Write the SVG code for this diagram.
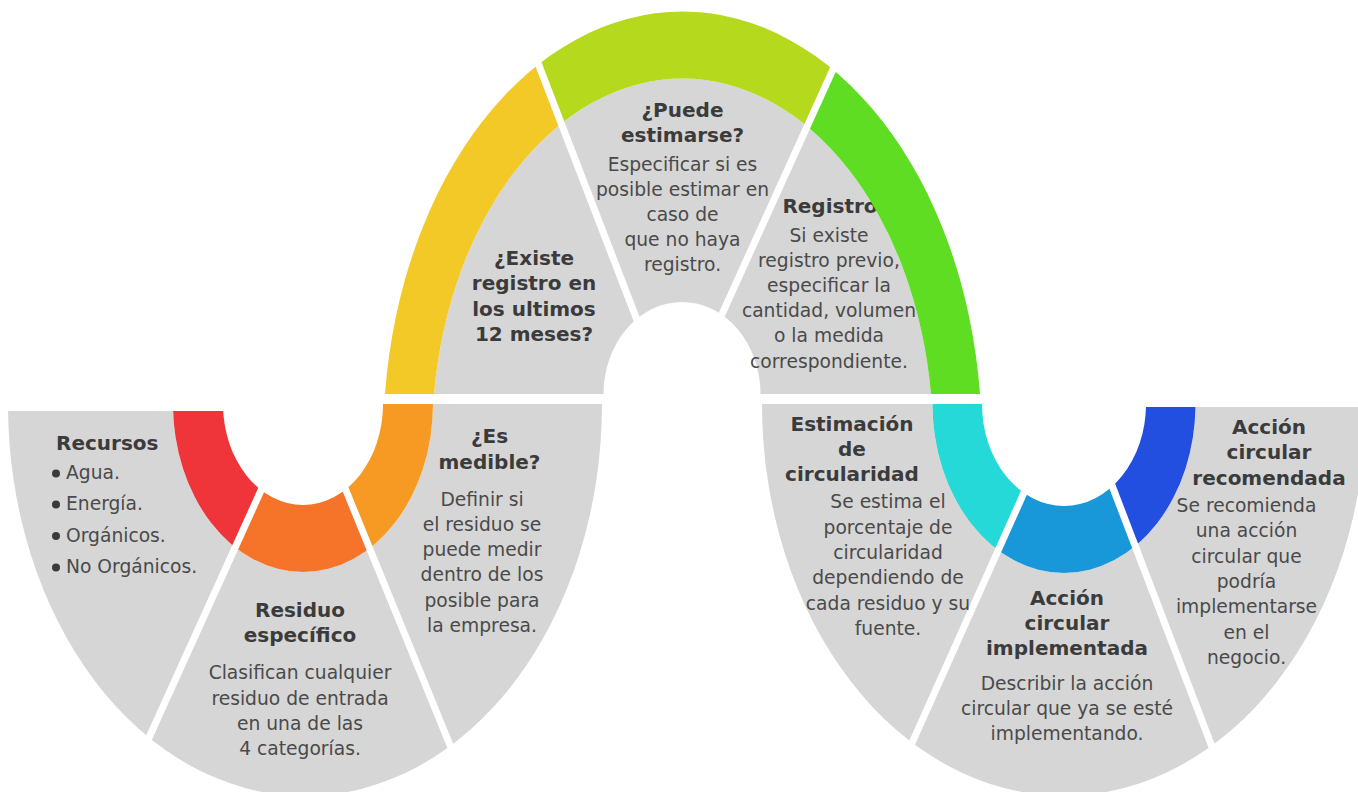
<svg xmlns="http://www.w3.org/2000/svg" width="1358" height="792" viewBox="0 0 1358 792">
<style>
.gray{fill:#d6d6d6}
.t{font-family:"DejaVu Sans","Liberation Sans",sans-serif;font-weight:bold;font-size:20px;fill:#3b3b3b;text-anchor:middle}
.b{font-family:"DejaVu Sans","Liberation Sans",sans-serif;font-size:18.7px;fill:#4a4a4a;text-anchor:middle}
.bl{font-family:"DejaVu Sans","Liberation Sans",sans-serif;font-size:18.7px;fill:#4a4a4a}
.tl{font-family:"DejaVu Sans","Liberation Sans",sans-serif;font-weight:bold;font-size:20px;fill:#3b3b3b}
.dot{fill:#3b3b3b}
</style>
<defs>
<path id="top-color" d="M385,394 A299.2,428 0 0 1 980,394 L931,394 A250.5,361 0 0 0 434,394 Z"/>
<path id="top-gray" d="M434,394 A250.5,361 0 0 1 931,394 L760.5,394 A78.5,92 0 0 0 603.5,394 Z"/>
<path id="lu-color" d="M173,404 A130,168 0 0 0 433,404 L383,404 A80,101 0 0 1 223,404 Z"/>
<path id="lu-gray" d="M8,404 A297,392 0 0 0 602,404 L433,404 A130,168 0 0 1 173,404 Z"/>
<path id="ru-color" d="M932.5,404 A131.5,169 0 0 0 1195.5,404 L1146,404 A82,102 0 0 1 982,404 Z"/>
<path id="ru-gray" d="M762,404 A302,392 0 0 0 1366,404 L1195.5,404 A131.5,169 0 0 1 932.5,404 Z"/>
<clipPath id="c-rec"><polygon points="0,411 293.1,411 116.9,800 0,800"/></clipPath>
<clipPath id="c-res"><polygon points="304,404 306.9,404 468.7,800 124.6,800"/></clipPath>
<clipPath id="c-med"><polygon points="314.4,404 620,404 620,800 476.2,800"/></clipPath>
<clipPath id="c-exi"><polygon points="360,0 509.9,0 661.7,394 360,394"/></clipPath>
<clipPath id="c-pue"><polygon points="517.5,0 860.6,0 682,394 669.3,394"/></clipPath>
<clipPath id="c-reg"><polygon points="868.3,0 1000,0 1000,394 689.7,394"/></clipPath>
<clipPath id="c-est"><polygon points="740,404 1059.9,404 882.7,800 740,800"/></clipPath>
<clipPath id="c-imp"><polygon points="1067.5,404 1077.1,404 1228.5,800 890.3,800"/></clipPath>
<clipPath id="c-rcm"><polygon points="1085.8,407 1358,407 1358,800 1236.1,800"/></clipPath>
</defs>
<rect width="1358" height="792" fill="#ffffff"/>

<g id="recursos">
<use href="#lu-gray" class="gray" clip-path="url(#c-rec)"/>
<text class="tl" x="56" y="450">Recursos</text>
<circle class="dot" cx="56" cy="473.5" r="4"/><text class="bl" x="66" y="479">Agua.</text>
<circle class="dot" cx="56" cy="504.5" r="4"/><text class="bl" x="66" y="510">Energía.</text>
<circle class="dot" cx="56" cy="536" r="4"/><text class="bl" x="66" y="541.5">Orgánicos.</text>
<circle class="dot" cx="56" cy="567.5" r="4"/><text class="bl" x="66" y="573">No Orgánicos.</text>
<use href="#lu-color" fill="#ef3539" clip-path="url(#c-rec)"/>
</g>

<g id="residuo">
<use href="#lu-gray" class="gray" clip-path="url(#c-res)"/>
<text class="t" x="300" y="617">Residuo</text>
<text class="t" x="300" y="642">específico</text>
<text class="b" x="300" y="679">Clasifican cualquier</text>
<text class="b" x="300" y="705">residuo de entrada</text>
<text class="b" x="300" y="730">en una de las</text>
<text class="b" x="300" y="755">4 categorías.</text>
<use href="#lu-color" fill="#f6732a" clip-path="url(#c-res)"/>
</g>

<g id="medible">
<use href="#lu-gray" class="gray" clip-path="url(#c-med)"/>
<text class="t" x="489.5" y="443">¿Es</text>
<text class="t" x="489.5" y="469">medible?</text>
<text class="b" x="482" y="506">Definir si</text>
<text class="b" x="482" y="531">el residuo se</text>
<text class="b" x="482" y="556">puede medir</text>
<text class="b" x="482" y="581">dentro de los</text>
<text class="b" x="482" y="606.5">posible para</text>
<text class="b" x="482" y="631.5">la empresa.</text>
<use href="#lu-color" fill="#f69a23" clip-path="url(#c-med)"/>
</g>

<g id="existe">
<use href="#top-gray" class="gray" clip-path="url(#c-exi)"/>
<text class="t" x="534" y="265">¿Existe</text>
<text class="t" x="534" y="290">registro en</text>
<text class="t" x="534" y="316">los ultimos</text>
<text class="t" x="534" y="341">12 meses?</text>
<use href="#top-color" fill="#f3c928" clip-path="url(#c-exi)"/>
</g>

<g id="puede">
<use href="#top-gray" class="gray" clip-path="url(#c-pue)"/>
<text class="t" x="682.5" y="117">¿Puede</text>
<text class="t" x="682.5" y="142">estimarse?</text>
<text class="b" x="682.5" y="171">Especificar si es</text>
<text class="b" x="682.5" y="196">posible estimar en</text>
<text class="b" x="682.5" y="221">caso de</text>
<text class="b" x="682.5" y="246">que no haya</text>
<text class="b" x="682.5" y="270.5">registro.</text>
<use href="#top-color" fill="#b5da1d" clip-path="url(#c-pue)"/>
</g>

<g id="registro">
<use href="#top-gray" class="gray" clip-path="url(#c-reg)"/>
<text class="t" x="830" y="213">Registro</text>
<text class="b" x="829" y="242">Si existe</text>
<text class="b" x="829" y="267">registro previo,</text>
<text class="b" x="829" y="292">especificar la</text>
<text class="b" x="829" y="317">cantidad, volumen</text>
<text class="b" x="829" y="342">o la medida</text>
<text class="b" x="829" y="368">correspondiente.</text>
<use href="#top-color" fill="#5fdd23" clip-path="url(#c-reg)"/>
</g>

<g id="estimacion">
<use href="#ru-gray" class="gray" clip-path="url(#c-est)"/>
<text class="t" x="852" y="431">Estimación</text>
<text class="t" x="852" y="456">de</text>
<text class="t" x="852" y="481">circularidad</text>
<text class="b" x="888" y="508">Se estima el</text>
<text class="b" x="888" y="534">porcentaje de</text>
<text class="b" x="888" y="558.5">circularidad</text>
<text class="b" x="888" y="584">dependiendo de</text>
<text class="b" x="888" y="610">cada residuo y su</text>
<text class="b" x="888" y="635">fuente.</text>
<use href="#ru-color" fill="#24d9d8" clip-path="url(#c-est)"/>
</g>

<g id="implementada">
<use href="#ru-gray" class="gray" clip-path="url(#c-imp)"/>
<text class="t" x="1067" y="605">Acción</text>
<text class="t" x="1067" y="630">circular</text>
<text class="t" x="1067" y="655">implementada</text>
<text class="b" x="1067" y="690">Describir la acción</text>
<text class="b" x="1067" y="715">circular que ya se esté</text>
<text class="b" x="1067" y="739.5">implementando.</text>
<use href="#ru-color" fill="#1898d9" clip-path="url(#c-imp)"/>
</g>

<g id="recomendada">
<use href="#ru-gray" class="gray" clip-path="url(#c-rcm)"/>
<text class="t" x="1269" y="433.5">Acción</text>
<text class="t" x="1269" y="459">circular</text>
<text class="t" x="1269" y="484.5">recomendada</text>
<text class="b" x="1246.5" y="511.5">Se recomienda</text>
<text class="b" x="1246.5" y="537">una acción</text>
<text class="b" x="1246.5" y="562.5">circular que</text>
<text class="b" x="1246.5" y="587.5">podría</text>
<text class="b" x="1246.5" y="612.5">implementarse</text>
<text class="b" x="1246.5" y="639">en el</text>
<text class="b" x="1246.5" y="664">negocio.</text>
<use href="#ru-color" fill="#234fe0" clip-path="url(#c-rcm)"/>
</g>

<g id="connectors"/>
</svg>
